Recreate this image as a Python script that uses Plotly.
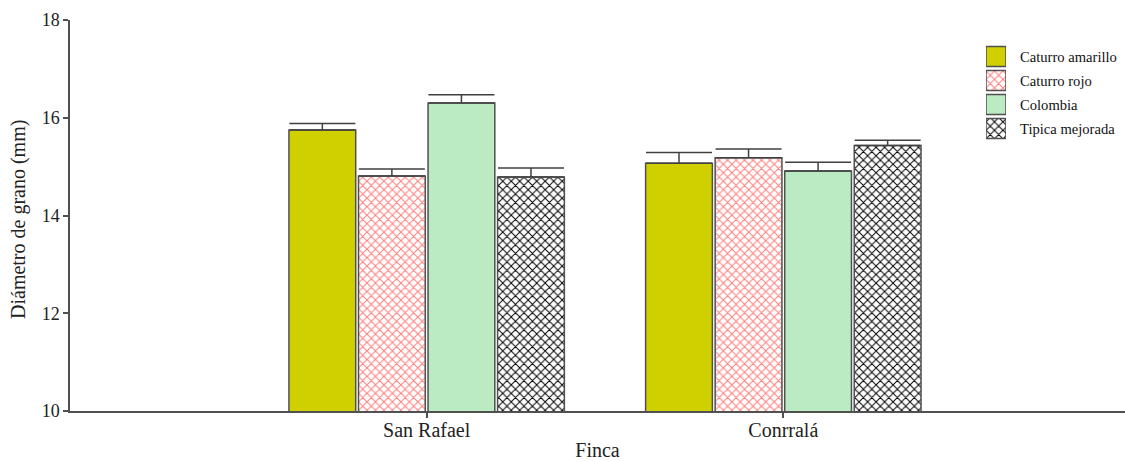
import plotly.graph_objects as go

# Grain diameter (mm) by farm and coffee variety
fincas = ["San Rafael", "Conrralá"]
variedades = ["Caturro amarillo", "Caturro rojo", "Colombia", "Tipica mejorada"]

caturro_amarillo = [15.75, 15.07]
caturro_rojo = [14.81, 15.18]
colombia = [16.30, 14.91]
tipica_mejorada = [14.79, 15.43]

err_amarillo = [0.13, 0.22]
err_rojo = [0.14, 0.18]
err_colombia = [0.17, 0.18]
err_tipica = [0.18, 0.11]

W, H = 1125, 461
ML, MR, MT, MB = 70, 0, 20, 50
pw, ph = W - ML - MR, H - MT - MB

fills = [
    dict(color="#D0D000", pattern=dict(shape="")),
    dict(color="white", pattern=dict(shape="x", fgcolor="#FF7C7C", bgcolor="white",
                                      size=6, solidity=0.3, fillmode="replace")),
    dict(color="#BAEBC2", pattern=dict(shape="")),
    dict(color="white", pattern=dict(shape="x", fgcolor="#000000", bgcolor="white",
                                      size=6, solidity=0.3, fillmode="replace")),
]
values = [caturro_amarillo, caturro_rojo, colombia, tipica_mejorada]
errors = [err_amarillo, err_rojo, err_colombia, err_tipica]
outline = dict(color="#505050", width=1.5)

fig = go.Figure()
for name, vals, errs, mk in zip(variedades, values, errors, fills):
    fig.add_trace(go.Bar(
        name=name, x=fincas, y=vals,
        marker=dict(mk, line=outline),
        error_y=dict(type="data", array=errs, arrayminus=[0, 0], symmetric=False,
                     color="#404040", thickness=1.5, width=33),
        showlegend=False,
    ))

serif = "Liberation Serif, Times New Roman, serif"

# Legend: square swatches on a pixel-scaled overlay axis, with text beside them
sw_left, sw_size, sw_top, sw_step = 986, 20, 46.5, 24
text_left = 1018
for i, (name, mk) in enumerate(zip(variedades, fills)):
    top = sw_top + i * sw_step
    fig.add_trace(go.Bar(
        x=[0], y=[sw_size], base=[top], width=[1], offset=[-0.5],
        marker=dict(mk, line=outline),
        xaxis="x2", yaxis="y2", showlegend=False, hoverinfo="skip",
    ))
    fig.add_annotation(
        x=(text_left - ML) / pw, xref="paper", xanchor="left",
        y=top + sw_size / 2, yref="y2", yanchor="middle",
        text=name, showarrow=False,
        font=dict(family=serif, size=14.6, color="#111111"),
    )

# Y-axis title
fig.add_annotation(
    x=(19 - ML) / pw, xref="paper", xanchor="center",
    y=(H - MB - 220) / ph, yref="paper", yanchor="middle", textangle=-90,
    text="Diámetro de grano (mm)", showarrow=False,
    font=dict(family=serif, size=20, color="#222222"),
)

fig.update_layout(
    width=W, height=H,
    margin=dict(l=ML, r=MR, t=MT, b=MB),
    paper_bgcolor="white", plot_bgcolor="white",
    barmode="group", bargap=0.22, bargroupgap=0.04,
    font=dict(family=serif, size=17, color="#222222"),
    showlegend=False,
    xaxis=dict(range=[-1, 1.958], showline=True, linecolor="#505050", linewidth=1.5,
               ticks="outside", ticklen=5, tickcolor="#505050", tickwidth=1.5,
               ticklabelstandoff=-5,
               showgrid=False, zeroline=False, automargin=False,
               title=dict(text="Finca", font=dict(size=20), standoff=6),
               tickfont=dict(size=20)),
    yaxis=dict(range=[10, 18], tickvals=[10, 12, 14, 16, 18], showline=True,
               linecolor="#505050", linewidth=1.5, ticks="outside", ticklen=5,
               tickcolor="#505050", tickwidth=1.5, showgrid=False, zeroline=False,
               automargin=False, tickfont=dict(size=18)),
    xaxis2=dict(domain=[(sw_left - ML) / pw, (sw_left + sw_size - ML) / pw],
                range=[-0.5, 0.5], visible=False, anchor="y2", fixedrange=True),
    yaxis2=dict(domain=[0, 1], range=[H - MB, MT], visible=False, anchor="x2",
                fixedrange=True),
)

fig.write_html("out.html")
